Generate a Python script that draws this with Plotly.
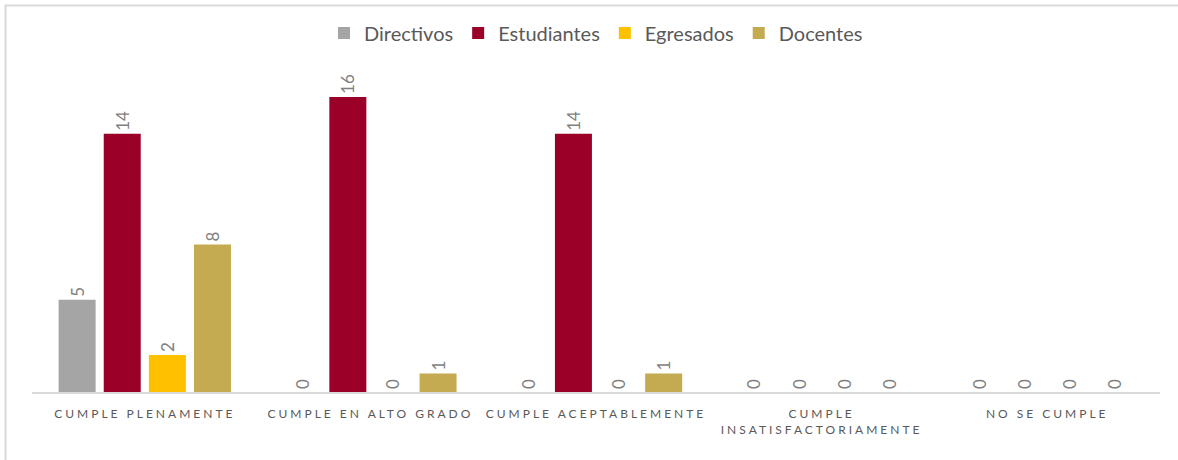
import plotly.graph_objects as go

categories = ["CUMPLE PLENAMENTE", "CUMPLE EN ALTO GRADO", "CUMPLE ACEPTABLEMENTE",
              "CUMPLE<br>INSATISFACTORIAMENTE", "NO SE CUMPLE"]
directivos = [5, 0, 0, 0, 0]
estudiantes = [14, 16, 14, 0, 0]
egresados = [2, 0, 0, 0, 0]
docentes = [8, 1, 1, 0, 0]

series = [
    ("Directivos", directivos, "#a5a5a5"),
    ("Estudiantes", estudiantes, "#9b0029"),
    ("Egresados", egresados, "#ffc000"),
    ("Docentes", docentes, "#c4ab52"),
]

fig = go.Figure()
for name, vals, color in series:
    fig.add_trace(go.Bar(
        x=categories, y=vals, name=name,
        marker=dict(color=color, line=dict(width=0)),
        text=[str(v) for v in vals],
        textposition="outside",
        textangle=-90,
        constraintext="none",
        textfont=dict(family="Lato", size=17, color="#7f7f7f"),
        cliponaxis=False,
    ))

fig.update_layout(
    width=1178, height=460,
    barmode="group",
    bargap=0.2,
    bargroupgap=0.18,
    paper_bgcolor="white",
    plot_bgcolor="white",
    margin=dict(l=32, r=18, t=60, b=68, autoexpand=False),
    font=dict(family="Lato", color="#595959"),
    showlegend=True,
    legend=dict(
        orientation="h", x=0.5, xanchor="center",
        yref="container", y=1 - 33 / 460, yanchor="middle",
        font=dict(family="Lato", size=20, color="#595959"),
        itemwidth=30, tracegroupgap=0, bgcolor="rgba(0,0,0,0)",
    ),
    xaxis=dict(
        showgrid=False, zeroline=False,
        showline=True, linecolor="#d9d9d9", linewidth=2,
        tickfont=dict(family="Lato", size=12, color="#595959"),
        ticks="", ticklabelstandoff=10,
    ),
    yaxis=dict(
        range=[0, 18], showgrid=False, zeroline=False,
        showticklabels=False, showline=False,
    ),
    shapes=[
        dict(type="rect", xref="paper", yref="paper",
             x0=-0.0235, x1=1.1, y0=-0.5, y1=1.164,
             line=dict(color="#d9d9d9", width=2), fillcolor="rgba(0,0,0,0)",
             layer="below"),
    ],
)

post = """
document.body.style.margin = '0';
var s = document.createElement('style');
s.textContent = '.xtick text { letter-spacing: 3px; }';
document.head.appendChild(s);
"""

fig.write_html("out.html", post_script=post, config={"displayModeBar": False})
